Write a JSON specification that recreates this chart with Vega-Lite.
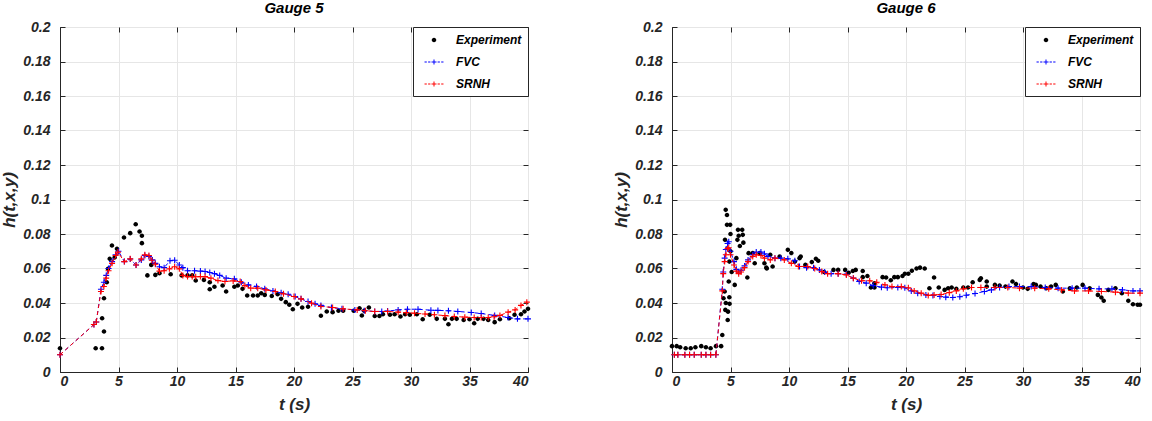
{
"$schema": "https://vega.github.io/schema/vega-lite/v6.json",
"background": "white",
"padding": {"left": 0, "top": 0, "right": 5, "bottom": 5},
"spacing": 78,
"config": {
  "font": "Liberation Sans",
  "view": {"stroke": "#262626", "strokeWidth": 1},
  "axis": {"labelFont": "Liberation Sans", "labelFontSize": 14, "labelFontStyle": "italic", "labelFontWeight": "bold", "labelColor": "#262626",
           "titleFont": "Liberation Sans", "titleFontSize": 17, "titleFontStyle": "italic", "titleFontWeight": "bold", "titleColor": "#262626",
           "domainColor": "#262626", "tickColor": "#262626", "gridColor": "#e6e6e6", "tickSize": -5},
  "axisX": {"labelPadding": 7, "titlePadding": 8},
  "axisY": {"labelPadding": 15, "titlePadding": 4},
  "title": {"font": "Liberation Sans", "fontSize": 15, "fontStyle": "italic", "fontWeight": "bold", "color": "black", "anchor": "middle", "offset": 0},
  "legend": {"orient": "top-right", "offset": 0, "strokeColor": "#262626", "fillColor": "white", "padding": 6,
             "labelFont": "Liberation Sans", "labelFontSize": 12, "labelFontStyle": "italic", "labelFontWeight": "bold", "labelColor": "black",
             "symbolSize": 144, "rowPadding": 9, "labelOffset": 15, "symbolOffset": 8, "symbolOpacity": 1}
},
"resolve": {"scale": {"color": "independent"}, "legend": {"color": "independent"}},
"datasets": {
"g5": [
{"t":0,"h":0.010,"s":"FVC"},{"t":2.9,"h":0.0275,"s":"FVC"},{"t":3.1,"h":0.029,"s":"FVC"},{"t":3.5,"h":0.048,"s":"FVC"},{"t":3.75,"h":0.052,"s":"FVC"},{"t":3.95,"h":0.056,"s":"FVC"},{"t":4.15,"h":0.060,"s":"FVC"},{"t":4.45,"h":0.064,"s":"FVC"},{"t":4.75,"h":0.068,"s":"FVC"},{"t":5.0,"h":0.070,"s":"FVC"},{"t":5.5,"h":0.064,"s":"FVC"},{"t":6.0,"h":0.0655,"s":"FVC"},{"t":6.5,"h":0.062,"s":"FVC"},{"t":6.95,"h":0.065,"s":"FVC"},{"t":7.25,"h":0.0675,"s":"FVC"},{"t":7.6,"h":0.067,"s":"FVC"},{"t":7.9,"h":0.065,"s":"FVC"},{"t":8.15,"h":0.063,"s":"FVC"},{"t":8.5,"h":0.061,"s":"FVC"},{"t":8.9,"h":0.0605,"s":"FVC"},{"t":9.4,"h":0.0645,"s":"FVC"},{"t":9.8,"h":0.0648,"s":"FVC"},{"t":10.2,"h":0.062,"s":"FVC"},{"t":10.5,"h":0.0605,"s":"FVC"},{"t":10.9,"h":0.0587,"s":"FVC"},{"t":11.5,"h":0.0587,"s":"FVC"},{"t":12.0,"h":0.0585,"s":"FVC"},{"t":12.4,"h":0.0583,"s":"FVC"},{"t":12.8,"h":0.0577,"s":"FVC"},{"t":13.2,"h":0.057,"s":"FVC"},{"t":13.65,"h":0.056,"s":"FVC"},{"t":14.2,"h":0.0544,"s":"FVC"},{"t":14.9,"h":0.054,"s":"FVC"},{"t":15.5,"h":0.052,"s":"FVC"},{"t":16.1,"h":0.0505,"s":"FVC"},{"t":16.8,"h":0.0496,"s":"FVC"},{"t":17.5,"h":0.0482,"s":"FVC"},{"t":18.2,"h":0.047,"s":"FVC"},{"t":18.9,"h":0.046,"s":"FVC"},{"t":19.5,"h":0.0451,"s":"FVC"},{"t":20.1,"h":0.0438,"s":"FVC"},{"t":20.6,"h":0.0424,"s":"FVC"},{"t":21.2,"h":0.0409,"s":"FVC"},{"t":21.8,"h":0.0395,"s":"FVC"},{"t":22.3,"h":0.0386,"s":"FVC"},{"t":23.2,"h":0.0374,"s":"FVC"},{"t":24.1,"h":0.0366,"s":"FVC"},{"t":25.2,"h":0.036,"s":"FVC"},{"t":26.0,"h":0.0355,"s":"FVC"},{"t":26.9,"h":0.0351,"s":"FVC"},{"t":27.5,"h":0.0351,"s":"FVC"},{"t":28.0,"h":0.0353,"s":"FVC"},{"t":28.9,"h":0.036,"s":"FVC"},{"t":29.7,"h":0.0364,"s":"FVC"},{"t":30.6,"h":0.0364,"s":"FVC"},{"t":31.7,"h":0.0358,"s":"FVC"},{"t":32.3,"h":0.0357,"s":"FVC"},{"t":33.2,"h":0.0355,"s":"FVC"},{"t":34.0,"h":0.0351,"s":"FVC"},{"t":35.15,"h":0.0345,"s":"FVC"},{"t":36.0,"h":0.0339,"s":"FVC"},{"t":37.15,"h":0.0328,"s":"FVC"},{"t":38.3,"h":0.0316,"s":"FVC"},{"t":39.1,"h":0.0308,"s":"FVC"},{"t":40.0,"h":0.0308,"s":"FVC"},
{"t":0,"h":0.010,"s":"SRNH"},{"t":2.9,"h":0.0275,"s":"SRNH"},{"t":3.1,"h":0.029,"s":"SRNH"},{"t":3.5,"h":0.0467,"s":"SRNH"},{"t":3.75,"h":0.0496,"s":"SRNH"},{"t":3.95,"h":0.0544,"s":"SRNH"},{"t":4.15,"h":0.0587,"s":"SRNH"},{"t":4.45,"h":0.063,"s":"SRNH"},{"t":4.75,"h":0.0675,"s":"SRNH"},{"t":4.95,"h":0.0695,"s":"SRNH"},{"t":5.5,"h":0.064,"s":"SRNH"},{"t":6.0,"h":0.0656,"s":"SRNH"},{"t":6.5,"h":0.062,"s":"SRNH"},{"t":6.95,"h":0.0656,"s":"SRNH"},{"t":7.25,"h":0.068,"s":"SRNH"},{"t":7.6,"h":0.0675,"s":"SRNH"},{"t":7.85,"h":0.0648,"s":"SRNH"},{"t":8.15,"h":0.0625,"s":"SRNH"},{"t":8.5,"h":0.0585,"s":"SRNH"},{"t":8.9,"h":0.0587,"s":"SRNH"},{"t":9.35,"h":0.0598,"s":"SRNH"},{"t":9.8,"h":0.061,"s":"SRNH"},{"t":10.2,"h":0.0598,"s":"SRNH"},{"t":10.5,"h":0.056,"s":"SRNH"},{"t":10.9,"h":0.0553,"s":"SRNH"},{"t":11.3,"h":0.0553,"s":"SRNH"},{"t":11.6,"h":0.0552,"s":"SRNH"},{"t":12.0,"h":0.0553,"s":"SRNH"},{"t":12.4,"h":0.0553,"s":"SRNH"},{"t":12.9,"h":0.0544,"s":"SRNH"},{"t":13.5,"h":0.053,"s":"SRNH"},{"t":14.1,"h":0.0525,"s":"SRNH"},{"t":14.8,"h":0.0528,"s":"SRNH"},{"t":15.4,"h":0.0525,"s":"SRNH"},{"t":15.8,"h":0.0501,"s":"SRNH"},{"t":16.3,"h":0.0486,"s":"SRNH"},{"t":16.9,"h":0.0486,"s":"SRNH"},{"t":17.6,"h":0.0476,"s":"SRNH"},{"t":18.4,"h":0.0467,"s":"SRNH"},{"t":19.1,"h":0.0453,"s":"SRNH"},{"t":20.0,"h":0.0438,"s":"SRNH"},{"t":20.6,"h":0.0424,"s":"SRNH"},{"t":21.5,"h":0.0399,"s":"SRNH"},{"t":22.3,"h":0.038,"s":"SRNH"},{"t":23.3,"h":0.0374,"s":"SRNH"},{"t":24.2,"h":0.0366,"s":"SRNH"},{"t":25.4,"h":0.036,"s":"SRNH"},{"t":26.1,"h":0.0355,"s":"SRNH"},{"t":26.9,"h":0.0351,"s":"SRNH"},{"t":28.0,"h":0.0351,"s":"SRNH"},{"t":28.9,"h":0.0347,"s":"SRNH"},{"t":29.6,"h":0.0344,"s":"SRNH"},{"t":30.3,"h":0.0341,"s":"SRNH"},{"t":31.2,"h":0.0336,"s":"SRNH"},{"t":32.0,"h":0.0332,"s":"SRNH"},{"t":32.9,"h":0.0327,"s":"SRNH"},{"t":33.7,"h":0.0322,"s":"SRNH"},{"t":34.6,"h":0.0318,"s":"SRNH"},{"t":35.4,"h":0.0316,"s":"SRNH"},{"t":36.0,"h":0.0316,"s":"SRNH"},{"t":36.6,"h":0.0316,"s":"SRNH"},{"t":37.1,"h":0.032,"s":"SRNH"},{"t":37.6,"h":0.0328,"s":"SRNH"},{"t":38.3,"h":0.0347,"s":"SRNH"},{"t":38.9,"h":0.036,"s":"SRNH"},{"t":39.4,"h":0.0386,"s":"SRNH"},{"t":39.9,"h":0.0405,"s":"SRNH"},
{"t":0,"h":0.0138,"s":"Experiment"},{"t":3.05,"h":0.0138,"s":"Experiment"},{"t":3.59,"h":0.0138,"s":"Experiment"},{"t":3.6,"h":0.0312,"s":"Experiment"},{"t":3.76,"h":0.0235,"s":"Experiment"},{"t":3.76,"h":0.0428,"s":"Experiment"},{"t":4.0,"h":0.052,"s":"Experiment"},{"t":4.1,"h":0.0598,"s":"Experiment"},{"t":4.25,"h":0.0656,"s":"Experiment"},{"t":4.44,"h":0.0733,"s":"Experiment"},{"t":4.67,"h":0.0664,"s":"Experiment"},{"t":4.87,"h":0.0714,"s":"Experiment"},{"t":5.47,"h":0.078,"s":"Experiment"},{"t":6.0,"h":0.0805,"s":"Experiment"},{"t":6.47,"h":0.0857,"s":"Experiment"},{"t":6.8,"h":0.0814,"s":"Experiment"},{"t":7.0,"h":0.079,"s":"Experiment"},{"t":7.0,"h":0.0747,"s":"Experiment"},{"t":7.47,"h":0.056,"s":"Experiment"},{"t":7.8,"h":0.0621,"s":"Experiment"},{"t":8.15,"h":0.0563,"s":"Experiment"},{"t":8.5,"h":0.0573,"s":"Experiment"},{"t":9.46,"h":0.0567,"s":"Experiment"},{"t":10.4,"h":0.056,"s":"Experiment"},{"t":10.9,"h":0.056,"s":"Experiment"},{"t":11.3,"h":0.056,"s":"Experiment"},{"t":11.6,"h":0.053,"s":"Experiment"},{"t":12.3,"h":0.0534,"s":"Experiment"},{"t":12.8,"h":0.052,"s":"Experiment"},{"t":12.8,"h":0.048,"s":"Experiment"},{"t":13.2,"h":0.0494,"s":"Experiment"},{"t":13.9,"h":0.0501,"s":"Experiment"},{"t":14.2,"h":0.0467,"s":"Experiment"},{"t":14.9,"h":0.0494,"s":"Experiment"},{"t":15.2,"h":0.0501,"s":"Experiment"},{"t":15.6,"h":0.0482,"s":"Experiment"},{"t":16.0,"h":0.0443,"s":"Experiment"},{"t":16.5,"h":0.0443,"s":"Experiment"},{"t":16.9,"h":0.0443,"s":"Experiment"},{"t":17.2,"h":0.0457,"s":"Experiment"},{"t":17.5,"h":0.0447,"s":"Experiment"},{"t":18.1,"h":0.0441,"s":"Experiment"},{"t":18.6,"h":0.0451,"s":"Experiment"},{"t":18.9,"h":0.0424,"s":"Experiment"},{"t":19.3,"h":0.0405,"s":"Experiment"},{"t":19.6,"h":0.039,"s":"Experiment"},{"t":19.9,"h":0.0364,"s":"Experiment"},{"t":20.3,"h":0.0395,"s":"Experiment"},{"t":20.7,"h":0.0374,"s":"Experiment"},{"t":21.2,"h":0.0378,"s":"Experiment"},{"t":22.3,"h":0.0326,"s":"Experiment"},{"t":22.8,"h":0.0351,"s":"Experiment"},{"t":23.3,"h":0.0347,"s":"Experiment"},{"t":23.8,"h":0.0355,"s":"Experiment"},{"t":24.2,"h":0.0355,"s":"Experiment"},{"t":25.1,"h":0.0355,"s":"Experiment"},{"t":25.6,"h":0.037,"s":"Experiment"},{"t":25.8,"h":0.0328,"s":"Experiment"},{"t":26.0,"h":0.0355,"s":"Experiment"},{"t":26.4,"h":0.0374,"s":"Experiment"},{"t":26.9,"h":0.0325,"s":"Experiment"},{"t":27.3,"h":0.0325,"s":"Experiment"},{"t":27.6,"h":0.0335,"s":"Experiment"},{"t":28.2,"h":0.0332,"s":"Experiment"},{"t":28.6,"h":0.0335,"s":"Experiment"},{"t":29.1,"h":0.0322,"s":"Experiment"},{"t":29.5,"h":0.0335,"s":"Experiment"},{"t":29.9,"h":0.0332,"s":"Experiment"},{"t":30.5,"h":0.0335,"s":"Experiment"},{"t":31.0,"h":0.0306,"s":"Experiment"},{"t":31.6,"h":0.0332,"s":"Experiment"},{"t":32.2,"h":0.0308,"s":"Experiment"},{"t":32.9,"h":0.0308,"s":"Experiment"},{"t":33.2,"h":0.0277,"s":"Experiment"},{"t":33.5,"h":0.0308,"s":"Experiment"},{"t":33.9,"h":0.0308,"s":"Experiment"},{"t":34.5,"h":0.0302,"s":"Experiment"},{"t":35.0,"h":0.0306,"s":"Experiment"},{"t":35.4,"h":0.0283,"s":"Experiment"},{"t":35.7,"h":0.0308,"s":"Experiment"},{"t":36.2,"h":0.0308,"s":"Experiment"},{"t":36.6,"h":0.0302,"s":"Experiment"},{"t":37.15,"h":0.0289,"s":"Experiment"},{"t":37.6,"h":0.0306,"s":"Experiment"},{"t":38.4,"h":0.0312,"s":"Experiment"},{"t":38.85,"h":0.0332,"s":"Experiment"},{"t":39.4,"h":0.0335,"s":"Experiment"},{"t":39.7,"h":0.0351,"s":"Experiment"},{"t":40.0,"h":0.0366,"s":"Experiment"}
],
"g6": [
{"t":0.2,"h":0.01,"s":"FVC"},{"t":0.5,"h":0.01,"s":"FVC"},{"t":1.1,"h":0.01,"s":"FVC"},{"t":1.5,"h":0.01,"s":"FVC"},{"t":1.9,"h":0.01,"s":"FVC"},{"t":2.5,"h":0.01,"s":"FVC"},{"t":2.9,"h":0.01,"s":"FVC"},{"t":3.3,"h":0.01,"s":"FVC"},{"t":3.75,"h":0.01,"s":"FVC"},{"t":4.3,"h":0.048,"s":"FVC"},{"t":4.38,"h":0.058,"s":"FVC"},{"t":4.5,"h":0.066,"s":"FVC"},{"t":4.6,"h":0.071,"s":"FVC"},{"t":4.75,"h":0.0745,"s":"FVC"},{"t":4.85,"h":0.0755,"s":"FVC"},{"t":5.0,"h":0.070,"s":"FVC"},{"t":5.3,"h":0.064,"s":"FVC"},{"t":5.5,"h":0.0595,"s":"FVC"},{"t":5.7,"h":0.058,"s":"FVC"},{"t":5.9,"h":0.059,"s":"FVC"},{"t":6.2,"h":0.0615,"s":"FVC"},{"t":6.5,"h":0.065,"s":"FVC"},{"t":6.9,"h":0.068,"s":"FVC"},{"t":7.2,"h":0.0695,"s":"FVC"},{"t":7.6,"h":0.0695,"s":"FVC"},{"t":7.9,"h":0.0685,"s":"FVC"},{"t":8.2,"h":0.067,"s":"FVC"},{"t":8.8,"h":0.066,"s":"FVC"},{"t":9.3,"h":0.066,"s":"FVC"},{"t":9.9,"h":0.0656,"s":"FVC"},{"t":10.5,"h":0.0645,"s":"FVC"},{"t":10.9,"h":0.0612,"s":"FVC"},{"t":11.5,"h":0.0605,"s":"FVC"},{"t":12.1,"h":0.0605,"s":"FVC"},{"t":12.6,"h":0.0592,"s":"FVC"},{"t":13.05,"h":0.0579,"s":"FVC"},{"t":13.6,"h":0.057,"s":"FVC"},{"t":14.2,"h":0.057,"s":"FVC"},{"t":14.9,"h":0.0567,"s":"FVC"},{"t":15.5,"h":0.0544,"s":"FVC"},{"t":16.0,"h":0.0525,"s":"FVC"},{"t":16.6,"h":0.0515,"s":"FVC"},{"t":17.2,"h":0.0501,"s":"FVC"},{"t":17.9,"h":0.0492,"s":"FVC"},{"t":18.4,"h":0.0488,"s":"FVC"},{"t":19.3,"h":0.049,"s":"FVC"},{"t":19.9,"h":0.0488,"s":"FVC"},{"t":20.45,"h":0.047,"s":"FVC"},{"t":21.0,"h":0.0457,"s":"FVC"},{"t":21.7,"h":0.0447,"s":"FVC"},{"t":22.3,"h":0.0444,"s":"FVC"},{"t":22.9,"h":0.0438,"s":"FVC"},{"t":23.4,"h":0.0434,"s":"FVC"},{"t":24.0,"h":0.0432,"s":"FVC"},{"t":24.6,"h":0.0436,"s":"FVC"},{"t":25.15,"h":0.0445,"s":"FVC"},{"t":25.9,"h":0.0455,"s":"FVC"},{"t":26.7,"h":0.0467,"s":"FVC"},{"t":27.3,"h":0.0476,"s":"FVC"},{"t":28.0,"h":0.049,"s":"FVC"},{"t":28.8,"h":0.0495,"s":"FVC"},{"t":29.7,"h":0.0495,"s":"FVC"},{"t":30.7,"h":0.0495,"s":"FVC"},{"t":31.9,"h":0.049,"s":"FVC"},{"t":33.0,"h":0.0486,"s":"FVC"},{"t":34.2,"h":0.0486,"s":"FVC"},{"t":35.3,"h":0.0486,"s":"FVC"},{"t":36.5,"h":0.0482,"s":"FVC"},{"t":37.6,"h":0.0482,"s":"FVC"},{"t":38.5,"h":0.0476,"s":"FVC"},{"t":39.4,"h":0.047,"s":"FVC"},{"t":40.0,"h":0.047,"s":"FVC"},
{"t":0.2,"h":0.01,"s":"SRNH"},{"t":0.5,"h":0.01,"s":"SRNH"},{"t":1.1,"h":0.01,"s":"SRNH"},{"t":1.5,"h":0.01,"s":"SRNH"},{"t":1.9,"h":0.01,"s":"SRNH"},{"t":2.5,"h":0.01,"s":"SRNH"},{"t":2.9,"h":0.01,"s":"SRNH"},{"t":3.3,"h":0.01,"s":"SRNH"},{"t":3.75,"h":0.01,"s":"SRNH"},{"t":4.3,"h":0.047,"s":"SRNH"},{"t":4.38,"h":0.057,"s":"SRNH"},{"t":4.5,"h":0.064,"s":"SRNH"},{"t":4.6,"h":0.068,"s":"SRNH"},{"t":4.75,"h":0.0715,"s":"SRNH"},{"t":4.85,"h":0.072,"s":"SRNH"},{"t":5.0,"h":0.068,"s":"SRNH"},{"t":5.3,"h":0.062,"s":"SRNH"},{"t":5.5,"h":0.0585,"s":"SRNH"},{"t":5.7,"h":0.057,"s":"SRNH"},{"t":5.9,"h":0.058,"s":"SRNH"},{"t":6.2,"h":0.0605,"s":"SRNH"},{"t":6.5,"h":0.064,"s":"SRNH"},{"t":6.9,"h":0.067,"s":"SRNH"},{"t":7.2,"h":0.068,"s":"SRNH"},{"t":7.6,"h":0.0675,"s":"SRNH"},{"t":7.9,"h":0.066,"s":"SRNH"},{"t":8.4,"h":0.065,"s":"SRNH"},{"t":8.8,"h":0.066,"s":"SRNH"},{"t":9.6,"h":0.065,"s":"SRNH"},{"t":10.2,"h":0.063,"s":"SRNH"},{"t":10.8,"h":0.0612,"s":"SRNH"},{"t":11.6,"h":0.0612,"s":"SRNH"},{"t":12.2,"h":0.06,"s":"SRNH"},{"t":12.8,"h":0.0582,"s":"SRNH"},{"t":13.3,"h":0.057,"s":"SRNH"},{"t":14.2,"h":0.057,"s":"SRNH"},{"t":14.9,"h":0.0563,"s":"SRNH"},{"t":15.5,"h":0.0544,"s":"SRNH"},{"t":16.2,"h":0.0529,"s":"SRNH"},{"t":16.9,"h":0.0529,"s":"SRNH"},{"t":17.5,"h":0.052,"s":"SRNH"},{"t":18.2,"h":0.0505,"s":"SRNH"},{"t":18.8,"h":0.0495,"s":"SRNH"},{"t":19.6,"h":0.0495,"s":"SRNH"},{"t":20.2,"h":0.0488,"s":"SRNH"},{"t":20.7,"h":0.047,"s":"SRNH"},{"t":21.3,"h":0.0457,"s":"SRNH"},{"t":21.9,"h":0.0444,"s":"SRNH"},{"t":22.4,"h":0.0447,"s":"SRNH"},{"t":23.0,"h":0.0449,"s":"SRNH"},{"t":23.7,"h":0.046,"s":"SRNH"},{"t":24.3,"h":0.047,"s":"SRNH"},{"t":24.9,"h":0.0482,"s":"SRNH"},{"t":25.6,"h":0.049,"s":"SRNH"},{"t":26.4,"h":0.049,"s":"SRNH"},{"t":27.6,"h":0.049,"s":"SRNH"},{"t":28.7,"h":0.049,"s":"SRNH"},{"t":29.7,"h":0.0486,"s":"SRNH"},{"t":31.0,"h":0.0486,"s":"SRNH"},{"t":32.2,"h":0.0482,"s":"SRNH"},{"t":33.3,"h":0.0476,"s":"SRNH"},{"t":34.4,"h":0.047,"s":"SRNH"},{"t":35.6,"h":0.047,"s":"SRNH"},{"t":36.7,"h":0.0467,"s":"SRNH"},{"t":37.9,"h":0.0463,"s":"SRNH"},{"t":39.0,"h":0.0457,"s":"SRNH"},{"t":40.0,"h":0.0457,"s":"SRNH"},
{"t":0,"h":0.015,"s":"Experiment"},{"t":0.4,"h":0.015,"s":"Experiment"},{"t":0.7,"h":0.0143,"s":"Experiment"},{"t":1.17,"h":0.0138,"s":"Experiment"},{"t":1.6,"h":0.0138,"s":"Experiment"},{"t":2.0,"h":0.0143,"s":"Experiment"},{"t":2.5,"h":0.015,"s":"Experiment"},{"t":2.9,"h":0.0143,"s":"Experiment"},{"t":3.3,"h":0.0138,"s":"Experiment"},{"t":3.76,"h":0.015,"s":"Experiment"},{"t":4.2,"h":0.015,"s":"Experiment"},{"t":4.3,"h":0.0215,"s":"Experiment"},{"t":4.4,"h":0.0428,"s":"Experiment"},{"t":4.5,"h":0.0467,"s":"Experiment"},{"t":4.56,"h":0.036,"s":"Experiment"},{"t":4.6,"h":0.04,"s":"Experiment"},{"t":4.53,"h":0.0766,"s":"Experiment"},{"t":4.59,"h":0.094,"s":"Experiment"},{"t":4.7,"h":0.091,"s":"Experiment"},{"t":4.7,"h":0.0853,"s":"Experiment"},{"t":4.76,"h":0.0302,"s":"Experiment"},{"t":4.79,"h":0.035,"s":"Experiment"},{"t":4.85,"h":0.0525,"s":"Experiment"},{"t":4.9,"h":0.064,"s":"Experiment"},{"t":4.9,"h":0.0433,"s":"Experiment"},{"t":4.92,"h":0.0395,"s":"Experiment"},{"t":4.97,"h":0.0853,"s":"Experiment"},{"t":5.0,"h":0.07,"s":"Experiment"},{"t":5.0,"h":0.08,"s":"Experiment"},{"t":5.1,"h":0.058,"s":"Experiment"},{"t":5.36,"h":0.0505,"s":"Experiment"},{"t":5.5,"h":0.066,"s":"Experiment"},{"t":5.59,"h":0.0766,"s":"Experiment"},{"t":5.64,"h":0.0824,"s":"Experiment"},{"t":5.7,"h":0.079,"s":"Experiment"},{"t":5.8,"h":0.073,"s":"Experiment"},{"t":6.0,"h":0.0824,"s":"Experiment"},{"t":6.05,"h":0.0795,"s":"Experiment"},{"t":6.1,"h":0.075,"s":"Experiment"},{"t":6.44,"h":0.0548,"s":"Experiment"},{"t":6.55,"h":0.0689,"s":"Experiment"},{"t":6.9,"h":0.0689,"s":"Experiment"},{"t":7.07,"h":0.063,"s":"Experiment"},{"t":7.5,"h":0.0689,"s":"Experiment"},{"t":7.9,"h":0.063,"s":"Experiment"},{"t":8.06,"h":0.0606,"s":"Experiment"},{"t":8.1,"h":0.06,"s":"Experiment"},{"t":8.4,"h":0.068,"s":"Experiment"},{"t":8.6,"h":0.0612,"s":"Experiment"},{"t":9.2,"h":0.067,"s":"Experiment"},{"t":9.9,"h":0.0708,"s":"Experiment"},{"t":10.2,"h":0.069,"s":"Experiment"},{"t":10.5,"h":0.064,"s":"Experiment"},{"t":10.9,"h":0.066,"s":"Experiment"},{"t":11.0,"h":0.067,"s":"Experiment"},{"t":11.4,"h":0.0622,"s":"Experiment"},{"t":11.95,"h":0.0637,"s":"Experiment"},{"t":12.3,"h":0.0656,"s":"Experiment"},{"t":12.5,"h":0.0645,"s":"Experiment"},{"t":13.0,"h":0.058,"s":"Experiment"},{"t":13.8,"h":0.0592,"s":"Experiment"},{"t":14.2,"h":0.0592,"s":"Experiment"},{"t":14.8,"h":0.0592,"s":"Experiment"},{"t":15.1,"h":0.0575,"s":"Experiment"},{"t":15.45,"h":0.0585,"s":"Experiment"},{"t":15.7,"h":0.0592,"s":"Experiment"},{"t":16.3,"h":0.0585,"s":"Experiment"},{"t":16.3,"h":0.055,"s":"Experiment"},{"t":16.7,"h":0.0556,"s":"Experiment"},{"t":17.0,"h":0.049,"s":"Experiment"},{"t":17.3,"h":0.049,"s":"Experiment"},{"t":17.3,"h":0.0515,"s":"Experiment"},{"t":18.0,"h":0.055,"s":"Experiment"},{"t":18.3,"h":0.0548,"s":"Experiment"},{"t":18.7,"h":0.0532,"s":"Experiment"},{"t":19.0,"h":0.055,"s":"Experiment"},{"t":19.3,"h":0.055,"s":"Experiment"},{"t":19.7,"h":0.0556,"s":"Experiment"},{"t":19.9,"h":0.057,"s":"Experiment"},{"t":20.2,"h":0.057,"s":"Experiment"},{"t":20.5,"h":0.0587,"s":"Experiment"},{"t":20.9,"h":0.06,"s":"Experiment"},{"t":21.2,"h":0.0605,"s":"Experiment"},{"t":21.6,"h":0.06,"s":"Experiment"},{"t":22.0,"h":0.0486,"s":"Experiment"},{"t":22.4,"h":0.0548,"s":"Experiment"},{"t":22.8,"h":0.049,"s":"Experiment"},{"t":23.3,"h":0.0476,"s":"Experiment"},{"t":23.6,"h":0.0486,"s":"Experiment"},{"t":23.9,"h":0.049,"s":"Experiment"},{"t":24.3,"h":0.0482,"s":"Experiment"},{"t":24.9,"h":0.049,"s":"Experiment"},{"t":25.3,"h":0.049,"s":"Experiment"},{"t":25.7,"h":0.052,"s":"Experiment"},{"t":26.3,"h":0.0534,"s":"Experiment"},{"t":26.4,"h":0.0544,"s":"Experiment"},{"t":26.9,"h":0.0525,"s":"Experiment"},{"t":26.9,"h":0.0495,"s":"Experiment"},{"t":27.6,"h":0.0505,"s":"Experiment"},{"t":28.0,"h":0.0501,"s":"Experiment"},{"t":28.5,"h":0.0495,"s":"Experiment"},{"t":29.1,"h":0.0525,"s":"Experiment"},{"t":29.4,"h":0.051,"s":"Experiment"},{"t":30.0,"h":0.049,"s":"Experiment"},{"t":30.4,"h":0.0482,"s":"Experiment"},{"t":30.9,"h":0.051,"s":"Experiment"},{"t":31.1,"h":0.0505,"s":"Experiment"},{"t":31.5,"h":0.0495,"s":"Experiment"},{"t":32.0,"h":0.0486,"s":"Experiment"},{"t":32.4,"h":0.0495,"s":"Experiment"},{"t":32.8,"h":0.0505,"s":"Experiment"},{"t":33.4,"h":0.0467,"s":"Experiment"},{"t":34.0,"h":0.0486,"s":"Experiment"},{"t":34.6,"h":0.049,"s":"Experiment"},{"t":35.1,"h":0.0505,"s":"Experiment"},{"t":35.7,"h":0.0486,"s":"Experiment"},{"t":36.4,"h":0.0447,"s":"Experiment"},{"t":36.7,"h":0.0432,"s":"Experiment"},{"t":36.9,"h":0.0413,"s":"Experiment"},{"t":37.3,"h":0.0476,"s":"Experiment"},{"t":37.9,"h":0.0486,"s":"Experiment"},{"t":38.45,"h":0.0457,"s":"Experiment"},{"t":39.0,"h":0.0413,"s":"Experiment"},{"t":39.4,"h":0.0393,"s":"Experiment"},{"t":39.8,"h":0.039,"s":"Experiment"},{"t":40.0,"h":0.039,"s":"Experiment"}
]
},
"hconcat": [
{
  "title": "Gauge 5",
  "width": 468, "height": 345,
  "data": {"name": "g5"},
  "resolve": {"axis": {"x": "independent", "y": "independent"}},
  "layer": [
    {"transform": [{"filter": "datum.s == 'Experiment'"}],
     "mark": {"type": "point", "filled": true, "size": 144, "opacity": 1, "shape": "M-0.38,0A0.38,0.38,0,1,0,0.38,0A0.38,0.38,0,1,0,-0.38,0Z"},
     "encoding": {
       "x": {"field": "t", "type": "quantitative", "scale": {"domain": [0, 40], "nice": false}, "axis": {"title": "t (s)", "values": [0,5,10,15,20,25,30,35,40]}},
       "y": {"field": "h", "type": "quantitative", "scale": {"domain": [0, 0.2], "nice": false}, "axis": {"title": "h(t,x,y)", "values": [0,0.02,0.04,0.06,0.08,0.1,0.12,0.14,0.16,0.18,0.2], "format": "~g"}},
       "color": {"field": "s", "type": "nominal", "scale": {"domain": ["Experiment", "FVC", "SRNH"], "range": ["black", "blue", "red"]},
                 "legend": {"title": null, "labelExpr": "datum.label + '    '",
                            "encode": {"symbols": {"update": {"shape": {"signal": "datum.value == 'Experiment' ? 'M-0.38,0A0.38,0.38,0,1,0,0.38,0A0.38,0.38,0,1,0,-0.38,0Z' : 'M-1.58,-0.083H-1.2V0.083H-1.58Z M-0.98,-0.083H-0.6V0.083H-0.98Z M-0.42,-0.083H0.42V0.083H-0.42Z M-0.083,-0.42H0.083V0.42H-0.083Z M0.6,-0.083H0.98V0.083H0.6Z M1.2,-0.083H1.58V0.083H1.2Z'"}}}}}}
     }},
    {"transform": [{"filter": "datum.s == 'FVC'"}],
     "mark": {"type": "line", "color": "blue", "strokeWidth": 1, "strokeDash": [4, 3], "point": {"shape": "M-1,0H1M0,-1V1", "filled": false, "size": 36, "strokeWidth": 1.1, "color": "blue", "opacity": 1}},
     "encoding": {
       "x": {"field": "t", "type": "quantitative", "axis": {"orient": "top", "title": null, "labels": false, "grid": false, "domain": false, "values": [0,5,10,15,20,25,30,35,40]}},
       "y": {"field": "h", "type": "quantitative", "axis": {"orient": "right", "title": null, "labels": false, "grid": false, "domain": false, "values": [0,0.02,0.04,0.06,0.08,0.1,0.12,0.14,0.16,0.18,0.2]}}
     }},
    {"transform": [{"filter": "datum.s == 'SRNH'"}],
     "mark": {"type": "line", "color": "red", "strokeWidth": 1, "strokeDash": [4, 3], "point": {"shape": "M-1,0H1M0,-1V1", "filled": false, "size": 36, "strokeWidth": 1.1, "color": "red", "opacity": 1}},
     "encoding": {
       "x": {"field": "t", "type": "quantitative", "axis": null},
       "y": {"field": "h", "type": "quantitative", "axis": null}
     }}
  ]
},
{
  "title": "Gauge 6",
  "width": 468, "height": 345,
  "data": {"name": "g6"},
  "resolve": {"axis": {"x": "independent", "y": "independent"}},
  "layer": [
    {"transform": [{"filter": "datum.s == 'Experiment'"}],
     "mark": {"type": "point", "filled": true, "size": 144, "opacity": 1, "shape": "M-0.38,0A0.38,0.38,0,1,0,0.38,0A0.38,0.38,0,1,0,-0.38,0Z"},
     "encoding": {
       "x": {"field": "t", "type": "quantitative", "scale": {"domain": [0, 40], "nice": false}, "axis": {"title": "t (s)", "values": [0,5,10,15,20,25,30,35,40]}},
       "y": {"field": "h", "type": "quantitative", "scale": {"domain": [0, 0.2], "nice": false}, "axis": {"title": "h(t,x,y)", "values": [0,0.02,0.04,0.06,0.08,0.1,0.12,0.14,0.16,0.18,0.2], "format": "~g"}},
       "color": {"field": "s", "type": "nominal", "scale": {"domain": ["Experiment", "FVC", "SRNH"], "range": ["black", "blue", "red"]},
                 "legend": {"title": null, "labelExpr": "datum.label + '    '",
                            "encode": {"symbols": {"update": {"shape": {"signal": "datum.value == 'Experiment' ? 'M-0.38,0A0.38,0.38,0,1,0,0.38,0A0.38,0.38,0,1,0,-0.38,0Z' : 'M-1.58,-0.083H-1.2V0.083H-1.58Z M-0.98,-0.083H-0.6V0.083H-0.98Z M-0.42,-0.083H0.42V0.083H-0.42Z M-0.083,-0.42H0.083V0.42H-0.083Z M0.6,-0.083H0.98V0.083H0.6Z M1.2,-0.083H1.58V0.083H1.2Z'"}}}}}}
     }},
    {"transform": [{"filter": "datum.s == 'FVC'"}],
     "mark": {"type": "line", "color": "blue", "strokeWidth": 1, "strokeDash": [4, 3], "point": {"shape": "M-1,0H1M0,-1V1", "filled": false, "size": 36, "strokeWidth": 1.1, "color": "blue", "opacity": 1}},
     "encoding": {
       "x": {"field": "t", "type": "quantitative", "axis": {"orient": "top", "title": null, "labels": false, "grid": false, "domain": false, "values": [0,5,10,15,20,25,30,35,40]}},
       "y": {"field": "h", "type": "quantitative", "axis": {"orient": "right", "title": null, "labels": false, "grid": false, "domain": false, "values": [0,0.02,0.04,0.06,0.08,0.1,0.12,0.14,0.16,0.18,0.2]}}
     }},
    {"transform": [{"filter": "datum.s == 'SRNH'"}],
     "mark": {"type": "line", "color": "red", "strokeWidth": 1, "strokeDash": [4, 3], "point": {"shape": "M-1,0H1M0,-1V1", "filled": false, "size": 36, "strokeWidth": 1.1, "color": "red", "opacity": 1}},
     "encoding": {
       "x": {"field": "t", "type": "quantitative", "axis": null},
       "y": {"field": "h", "type": "quantitative", "axis": null}
     }}
  ]
}
]
}
